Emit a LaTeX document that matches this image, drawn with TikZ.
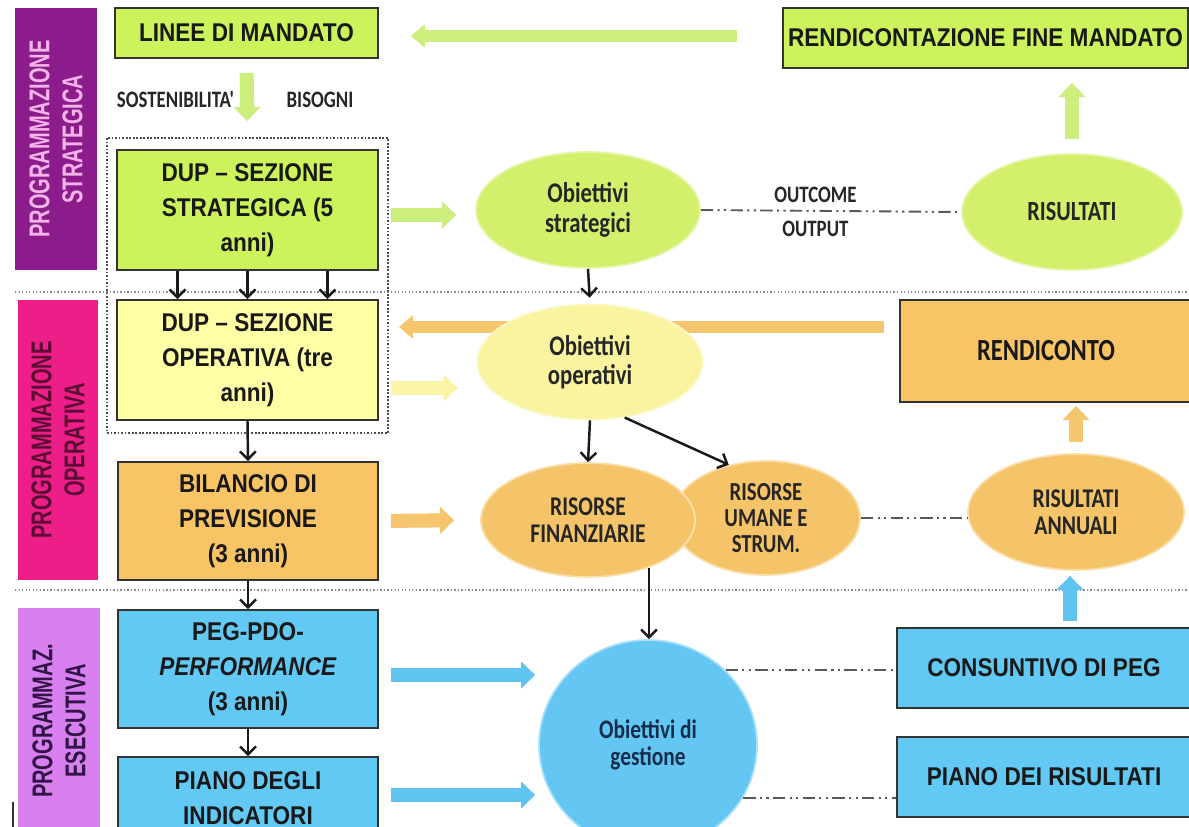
\documentclass[tikz,border=0pt]{standalone}
\usepackage{fontspec}
\setmainfont{Liberation Sans}
\newfontfamily\bxf[FakeStretch=0.88]{Liberation Sans}
\newfontfamily\cnf[FakeStretch=0.8]{Carlito}
\newfontfamily\sdf[FakeStretch=0.7]{Liberation Sans}
\usetikzlibrary{shapes.geometric,arrows.meta,shadows,calc}
\definecolor{gbox}{RGB}{204,242,92}
\definecolor{gell}{RGB}{210,240,108}
\definecolor{garr}{RGB}{204,238,125}
\definecolor{ybox}{RGB}{255,255,165}
\definecolor{yell}{RGB}{250,244,160}
\definecolor{yarr}{RGB}{250,244,165}
\definecolor{obox}{RGB}{249,196,102}
\definecolor{oell}{RGB}{246,196,104}
\definecolor{oarr}{RGB}{245,198,110}
\definecolor{bbox}{RGB}{98,200,244}
\definecolor{bell}{RGB}{100,198,242}
\definecolor{barr}{RGB}{96,196,240}
\definecolor{purp}{RGB}{140,28,140}
\definecolor{purptxt}{RGB}{244,180,232}
\definecolor{mag}{RGB}{238,30,136}
\definecolor{magtxt}{RGB}{90,12,50}
\definecolor{vio}{RGB}{216,128,240}
\definecolor{viotxt}{RGB}{50,20,70}
\tikzset{
  box/.style={draw=black!80, line width=1.1pt, align=center, inner sep=2pt,
    font=\bxf\bfseries\fontsize{14.6}{19.8}\selectfont, text=black!90,
    drop shadow={shadow xshift=0.8pt,shadow yshift=-0.8pt,opacity=0.45}},
  sidebar/.style={rotate=90, align=center, inner sep=0pt,
    font=\sdf\bfseries\fontsize{16.3}{18.7}\selectfont},
  ell/.style={ellipse, inner sep=0pt, align=center, text=black!85},
  lab/.style={font=\cnf\bfseries\fontsize{13.4}{14}\selectfont, text=black!85, inner sep=1pt},
  fatarrow/.style={line width=8pt, -{Triangle[length=8pt,width=15pt]}},
  longarrow/.style={line width=7pt, -{Triangle[length=8pt,width=13pt]}},
  blk/.style={draw=black!90, line width=1.4pt, -{Straight Barb[length=4.5pt,width=9pt]}},
  dashdot/.style={draw=black!65, line width=1.1pt,
    dash pattern=on 7pt off 2.5pt on 1.2pt off 2.5pt on 1.2pt off 2.5pt},
  sep/.style={draw=black!45, line width=0.8pt, dash pattern=on 0.8pt off 1.2pt},
}
\begin{document}
\begin{tikzpicture}[x=0.02cm,y=-0.02cm]
\useasboundingbox (0,0) rectangle (1189,827);
\fill[white] (0,0) rectangle (1189,827);

% separators and dotted frame
\draw[sep] (15,292) -- (1189,292);
\draw[sep] (15,590) -- (1189,590);
\draw[draw=black!70, line width=0.8pt, dash pattern=on 1pt off 1pt] (107,138) rectangle (388,433);

% side bars
\node[sidebar, fill=purp, text=purptxt, minimum width=5.24cm, minimum height=1.64cm] (ps) at (56,139) {PROGRAMMAZIONE\\STRATEGICA};
\node[sidebar, fill=mag, text=magtxt, minimum width=5.6cm, minimum height=1.6cm] (po) at (58,440) {PROGRAMMAZIONE\\OPERATIVA};
\node[sidebar, fill=vio, text=viotxt, minimum width=4.52cm, minimum height=1.64cm] (pe) at (59,721) {PROGRAMMAZ.\\ESECUTIVA};
\draw[black!80, line width=0.8pt] (13,802) -- (13,827);

% boxes
\node[box, fill=gbox, minimum width=5.26cm, minimum height=1.0cm] (linee) at (246.5,33) {LINEE DI MANDATO};
\node[box, fill=gbox, minimum width=5.22cm, minimum height=2.4cm] (dups) at (247.5,210) {DUP – SEZIONE\\STRATEGICA (5\\anni)};
\node[box, fill=ybox, minimum width=5.22cm, minimum height=2.4cm] (dupo) at (247.5,360) {DUP – SEZIONE\\OPERATIVA (tre\\anni)};
\node[box, fill=obox, minimum width=5.2cm, minimum height=2.36cm] (bil) at (248,521) {BILANCIO DI\\PREVISIONE\\(3 anni)};
\node[box, fill=bbox, minimum width=5.2cm, minimum height=2.36cm] (peg) at (248,669) {PEG-PDO-\\\textit{PERFORMANCE}\\(3 anni)};
\node[box, fill=bbox, minimum width=5.2cm, minimum height=1.64cm] (pia) at (248,798) {PIANO DEGLI\\INDICATORI};
\node[box, fill=gbox, minimum width=8.1cm, minimum height=1.2cm] (rfm) at (985.5,38) {RENDICONTAZIONE FINE MANDATO};
\node[box, fill=obox, minimum width=5.84cm, minimum height=2.04cm, font=\cnf\bfseries\fontsize{17.5}{19}\selectfont] (rend) at (1046,351) {RENDICONTO};
\node[box, fill=bbox, minimum width=5.88cm, minimum height=1.6cm] (cons) at (1044,668) {CONSUNTIVO DI PEG};
\node[box, fill=bbox, minimum width=5.88cm, minimum height=1.6cm] (pdr) at (1044,777) {PIANO DEI RISULTATI};

% long orange arrow (behind ellipse)
\coordinate (yor) at (0,327);
\draw[longarrow, draw=oarr, shorten <=0.3cm, shorten >=0.4cm] (rend.west |- yor) -- (dupo.east |- yor);

% ellipses
\node[ell, fill=gell, draw=gell!60!white, line width=1pt, minimum width=4.48cm, minimum height=2.32cm,
  font=\cnf\bfseries\fontsize{16.2}{17}\selectfont] (os) at (588,210) {Obiettivi\\strategici};
\node[ell, fill=gell, draw=gell!60!white, line width=1pt, minimum width=4.4cm, minimum height=2.32cm,
  font=\cnf\bfseries\fontsize{15.8}{16}\selectfont] (ris) at (1072,212) {RISULTATI};
\node[ell, fill=yell, draw=yell!60!white, line width=1pt, minimum width=4.5cm, minimum height=2.3cm,
  font=\cnf\bfseries\fontsize{16.2}{16.6}\selectfont] (oo) at (590,362) {Obiettivi\\operativi};
\node[ell, fill=oell, draw=oell!55!white, line width=1pt, minimum width=3.76cm, minimum height=2.28cm,
  font=\cnf\bfseries\fontsize{14.8}{15}\selectfont] (ru) at (766,518) {RISORSE\\UMANE E\\STRUM.};
\node[ell, fill=oell, draw=oell!55!white, line width=1pt, minimum width=4.28cm, minimum height=2.28cm,
  font=\cnf\bfseries\fontsize{15.4}{15.4}\selectfont] (rf) at (588,520) {RISORSE\\FINANZIARIE};
\node[ell, fill=oell, draw=oell!55!white, line width=1pt, minimum width=4.32cm, minimum height=2.32cm,
  font=\cnf\bfseries\fontsize{15.4}{15.6}\selectfont] (ra) at (1076,512) {RISULTATI\\ANNUALI};
\node[ell, fill=bell, draw=bell!55!white, line width=1pt, minimum width=4.36cm, minimum height=4.2cm,
  font=\cnf\bfseries\fontsize{15.2}{15.2}\selectfont, text={rgb,255:red,20;green,45;blue,75}] (og) at (648,745) {Obiettivi di\\gestione};

% labels
\node[lab] (sost) at (175.5,100) {SOSTENIBILITA'};
\node[lab] (biso) at (320,100) {BISOGNI};

% fat arrows
\coordinate (ygr) at (0,36);
\coordinate (ygs) at (0,215);
\coordinate (yyo) at (0,388);
\coordinate (yb1) at (0,675);
\coordinate (yb2) at (0,795);
\draw[longarrow, draw=garr, shorten <=0.9cm, shorten >=0.64cm] (rfm.west |- ygr) -- (linee.east |- ygr);
\draw[fatarrow, draw=garr, shorten <=0.28cm, shorten >=0.56cm] (linee.south) -- (dups.north);
\draw[fatarrow, draw=garr, shorten <=0.24cm, shorten >=0.38cm] (dups.east |- ygs) -- (os.west |- ygs);
\draw[fatarrow, draw=yarr, shorten <=0.24cm, shorten >=0.38cm] (dupo.east |- yyo) -- (oo.west |- yyo);
\draw[fatarrow, draw=oarr, shorten <=0.24cm, shorten >=0.52cm] (bil.east) -- (rf.west);
\draw[fatarrow, draw=barr, shorten <=0.24cm, shorten >=0.06cm] (peg.east |- yb1) -- (og.west |- yb1);
\draw[fatarrow, draw=barr, shorten <=0.24cm, shorten >=0.06cm] (pia.east |- yb2) -- (og.west |- yb2);
\draw[fatarrow, draw=garr, shorten <=0.28cm, shorten >=0.28cm] (ris.north) -- (ris.north |- rfm.south);
\draw[fatarrow, draw=oarr, shorten <=0.22cm, shorten >=0.06cm] (ra.north) -- (ra.north |- rend.south);
\draw[fatarrow, draw=barr, shorten <=0.12cm, shorten >=0.1cm] ([xshift=-0.12cm]ra.south |- cons.north) -- ([xshift=-0.12cm]ra.south);

% black arrows
\draw[blk] ([xshift=-1.4cm]dups.south) -- ([xshift=-1.4cm]dupo.north);
\draw[blk] (dups.south) -- (dupo.north);
\draw[blk] ([xshift=1.6cm]dups.south) -- ([xshift=1.6cm]dupo.north);
\draw[blk] (dupo.south) -- (bil.north);
\draw[blk] (bil.south) -- (peg.north);
\draw[blk] (peg.south) -- (pia.north);
\draw[blk, shorten >=0.12cm] (os.south) -- (oo.north);
\draw[blk] (oo.south) -- (rf.north);
\draw[blk] (oo.-58) -- (ru.125);
\draw[blk] (rf.-38) -- (rf.-38 |- og.north);

% dash-dot relations
\draw[dashdot] (os.east) -- node[lab, pos=0.44, above=3pt] (outc) {OUTCOME} node[lab, pos=0.44, below=4pt] (outp) {OUTPUT} (ris.west);
\draw[dashdot] (ru.east) -- (ru.east -| ra.west);
\draw[dashdot] (og.north east) -- (og.north east -| cons.west);
\draw[dashdot] (og.-29) -- (og.-29 -| pdr.west);
\end{tikzpicture}
\end{document}
